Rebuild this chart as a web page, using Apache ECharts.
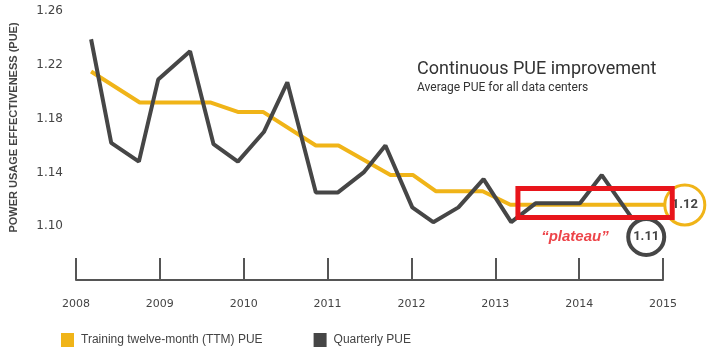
<!DOCTYPE html>
<html>
<head>
<meta charset="utf-8">
<script src="https://cdn.jsdelivr.net/npm/echarts@6/dist/echarts.min.js"></script>
<style>html,body{margin:0;padding:0;background:#fff;}#chart{width:713px;height:356px;}</style>
</head>
<body>
<div id="chart"></div>
<script>
// Data
const years = [2008, 2009, 2010, 2011, 2012, 2013, 2014, 2015];
const yTickLabels = [1.10, 1.14, 1.18, 1.22, 1.26];

const quarterlyX = [2008.18, 2008.42, 2008.75, 2008.98, 2009.36, 2009.64, 2009.93, 2010.24, 2010.52, 2010.86, 2011.12, 2011.43, 2011.69, 2012.01, 2012.26, 2012.56, 2012.86, 2013.19, 2013.48, 2013.75, 2014.01, 2014.27, 2014.64];
const quarterlyPUE = [1.239, 1.162, 1.148, 1.209, 1.230, 1.161, 1.148, 1.170, 1.207, 1.125, 1.125, 1.140, 1.160, 1.114, 1.103, 1.114, 1.135, 1.103, 1.117, 1.117, 1.117, 1.138, 1.105];

const ttmX = [2008.18, 2008.76, 2009.60, 2009.93, 2010.23, 2010.86, 2011.13, 2011.75, 2012.02, 2012.29, 2012.85, 2013.18, 2015.04];
const ttmPUE = [1.215, 1.192, 1.192, 1.185, 1.185, 1.160, 1.160, 1.138, 1.138, 1.126, 1.126, 1.116, 1.116];

// Annotations (data coordinates)
const ttmCallout = { x: 2015.26, y: 1.1158, text: '1.12' };
const quarterlyCallout = { x: 2014.80, y: 1.092, text: '1.11' };
const plateauX = [2013.27, 2015.11];
const plateauY = [1.1065, 1.128];
const plateauLabel = { x: 2013.95, y: 1.092, text: '\u201Cplateau\u201D' };

const YELLOW = '#F0B418';
const DARK = '#464646';
const RED = '#E8151B';

const chart = echarts.init(document.getElementById('chart'), null, { renderer: 'canvas' });
chart.setOption({
  animation: false,
  backgroundColor: '#ffffff',
  title: [
    { text: 'Continuous PUE improvement', left: 412, top: 55,
      textStyle: { fontFamily: 'Roboto', fontSize: 18, fontWeight: 'normal', color: '#333' } },
    { text: 'Average PUE for all data centers', left: 412, top: 77,
      textStyle: { fontFamily: 'Roboto', fontSize: 12, fontWeight: 'normal', color: '#333' } }
  ],
  legend: {
    left: 56, top: 328, icon: 'rect', itemWidth: 13, itemHeight: 14, itemGap: 51,
    textStyle: { fontFamily: 'Liberation Sans', fontSize: 12, color: '#444', padding: [0, 0, 0, 2] },
    data: ['Training twelve-month (TTM) PUE', 'Quarterly PUE']
  },
  grid: { left: 75, right: 50, top: 11, bottom: 76, containLabel: false },
  xAxis: {
    type: 'value', min: years[0], max: years[years.length - 1], interval: 1,
    axisLine: { show: true, lineStyle: { color: '#555', width: 2 } },
    axisTick: { show: true, inside: true, length: 22, lineStyle: { color: '#555', width: 2 } },
    splitLine: { show: false },
    axisLabel: { margin: 19, fontFamily: 'DejaVu Sans', fontSize: 11, color: '#444',
      formatter: v => String(Math.round(v)) }
  },
  yAxis: {
    type: 'value', min: 1.06, max: 1.26, interval: 0.02,
    name: 'POWER USAGE EFFECTIVENESS (PUE)', nameLocation: 'middle', nameGap: 57, nameRotate: 90,
    nameTextStyle: { fontFamily: 'Liberation Sans', fontSize: 11, fontWeight: 'bold', color: '#444', padding: [0, 0, 0, 36] },
    axisLine: { show: false }, axisTick: { show: false }, splitLine: { show: false },
    axisLabel: { margin: 13, fontFamily: 'DejaVu Sans', fontSize: 12, color: '#444',
      formatter: v => {
        const r = Math.round(v * 100);
        return yTickLabels.some(t => Math.round(t * 100) === r) ? v.toFixed(2) : '';
      } }
  },
  series: [
    {
      name: 'Training twelve-month (TTM) PUE', type: 'line', clip: false, z: 2,
      data: ttmX.map((x, i) => [x, ttmPUE[i]]),
      showSymbol: false, symbol: 'none',
      itemStyle: { color: YELLOW },
      lineStyle: { color: YELLOW, width: 4 }
    },
    {
      name: 'Quarterly PUE', type: 'line', clip: false, z: 3,
      data: quarterlyX.map((x, i) => [x, quarterlyPUE[i]]),
      showSymbol: false, symbol: 'none',
      itemStyle: { color: DARK },
      lineStyle: { color: DARK, width: 4 }
    },
    {
      name: 'ttmCallout', type: 'scatter', clip: false, z: 4, silent: true,
      symbol: 'circle', symbolSize: 40,
      itemStyle: { color: '#fff', borderColor: YELLOW, borderWidth: 3, opacity: 1 },
      label: { show: true, position: 'inside', formatter: () => ttmCallout.text,
        fontFamily: 'Roboto', fontSize: 13, fontWeight: 'bold', color: '#444' },
      data: [[ttmCallout.x, ttmCallout.y]]
    },
    {
      name: 'quarterlyCallout', type: 'scatter', clip: false, z: 4, silent: true,
      symbol: 'circle', symbolSize: 36,
      itemStyle: { color: '#fff', borderColor: DARK, borderWidth: 4, opacity: 1 },
      label: { show: true, position: 'inside', formatter: () => quarterlyCallout.text,
        fontFamily: 'Roboto', fontSize: 13, fontWeight: 'bold', color: '#444' },
      data: [[quarterlyCallout.x, quarterlyCallout.y]]
    },
    {
      name: 'plateauBox', type: 'custom', clip: false, z: 10, silent: true,
      encode: { x: [0, 2], y: [1, 3] },
      data: [[plateauX[0], plateauY[0], plateauX[1], plateauY[1]]],
      renderItem: (params, api) => {
        const a = api.coord([api.value(0), api.value(1)]);
        const b = api.coord([api.value(2), api.value(3)]);
        return {
          type: 'rect',
          shape: { x: Math.min(a[0], b[0]), y: Math.min(a[1], b[1]),
                   width: Math.abs(b[0] - a[0]), height: Math.abs(b[1] - a[1]) },
          style: { fill: 'none', stroke: RED, lineWidth: 5 }
        };
      }
    },
    {
      name: 'plateauLabel', type: 'scatter', clip: false, z: 10, silent: true,
      symbol: 'circle', symbolSize: 1, itemStyle: { color: 'rgba(0,0,0,0)' },
      label: { show: true, position: 'inside', formatter: () => plateauLabel.text,
        fontFamily: 'Liberation Sans', fontSize: 15, fontWeight: 'bold', fontStyle: 'italic', color: RED },
      data: [[plateauLabel.x, plateauLabel.y]]
    }
  ]
});
</script>
</body>
</html>
